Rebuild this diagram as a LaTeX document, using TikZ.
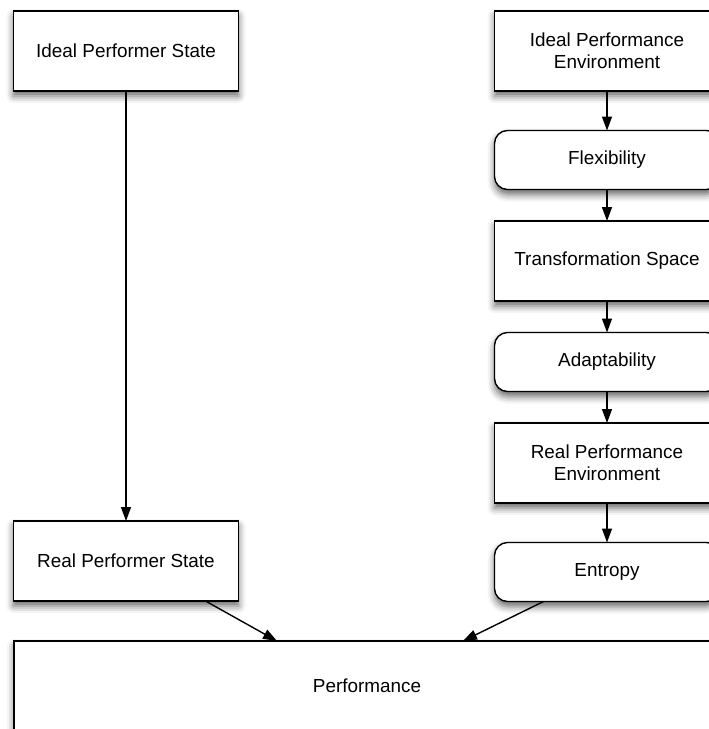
\documentclass[tikz,border=0pt]{standalone}
\usepackage{fontspec}
\setmainfont{Liberation Sans}
\usetikzlibrary{arrows.meta,shadows.blur,calc}

\tikzset{
  x=1pt, y=-1pt,
  base/.style={draw=black, line width=1.4pt, fill=white, align=center,
    inner sep=0pt, outer sep=0pt,
    font=\fontsize{18.9}{22}\selectfont,
    blur shadow={shadow xshift=0pt, shadow yshift=-5pt,
      shadow blur radius=7pt, shadow opacity=60}},
  squarebox/.style={base, rectangle, minimum width=225pt, minimum height=80pt},
  roundbox/.style={base, rectangle, rounded corners=13pt,
    minimum width=225pt, minimum height=59pt},
  link/.style={draw=black, line width=1.4pt,
    -{Triangle[length=14pt,width=10pt]}}
}

\begin{document}
\begin{tikzpicture}
\useasboundingbox (0,0) rectangle (709,729);

% left column
\node[squarebox] (ips) at (126,51) {Ideal Performer State};
\node[squarebox] (rps) at (126,561) {Real Performer State};

% right column
\node[squarebox] (ipe) at (607,51) {Ideal Performance\\Environment};
\node[roundbox]  (flex) at (607,160) {Flexibility};
\node[squarebox] (ts) at (607,261) {Transformation Space};
\node[roundbox]  (adapt) at (607,362) {Adaptability};
\node[squarebox] (rpe) at (607,463) {Real Performance\\Environment};
\node[roundbox]  (ent) at (607,572) {Entropy};

% bottom
\node[base, rectangle, minimum width=706pt, minimum height=90pt] (perf) at (367,686) {};
\node[font=\fontsize{18.9}{22}\selectfont] (perflabel) at (367,686) {Performance};

% connectors
\draw[link] (ips) -- (rps);
\draw[link] (ipe) -- (flex);
\draw[link] (flex) -- (ts);
\draw[link] (ts) -- (adapt);
\draw[link] (adapt) -- (rpe);
\draw[link] (rpe) -- (ent);
\draw[link] ([xshift=-33pt]rps.south east) -- ([xshift=263pt]perf.north west);
\draw[link] ([xshift=49pt]ent.south west) -- ([xshift=449pt]perf.north west);
\end{tikzpicture}
\end{document}
